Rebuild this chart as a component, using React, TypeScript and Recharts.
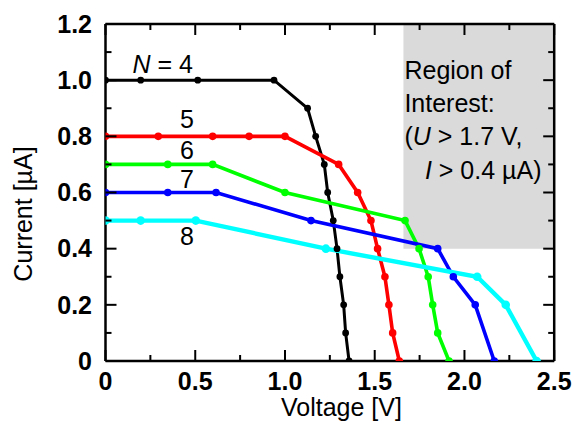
import React from 'react';
import { LineChart, Line, XAxis, YAxis, ReferenceArea, ReferenceDot } from 'recharts';

// N = 4
const n4V = [0, 0.196, 0.514, 0.939, 1.126, 1.171, 1.219, 1.238, 1.269, 1.29, 1.306, 1.327, 1.338, 1.357];
const n4I = [1.0, 1.0, 1.0, 1.0, 0.9, 0.8, 0.7, 0.6, 0.5, 0.4, 0.3, 0.2, 0.1, 0];
// N = 5
const n5V = [0, 0.294, 0.597, 0.8, 1.0, 1.299, 1.405, 1.479, 1.516, 1.557, 1.579, 1.6, 1.637];
const n5I = [0.8, 0.8, 0.8, 0.8, 0.8, 0.7, 0.6, 0.5, 0.4, 0.3, 0.2, 0.1, 0];
// N = 6
const n6V = [0, 0.347, 0.597, 1.0, 1.669, 1.747, 1.798, 1.823, 1.851, 1.914];
const n6I = [0.7, 0.7, 0.7, 0.6, 0.5, 0.4, 0.3, 0.2, 0.1, 0];
// N = 7
const n7V = [0, 0.347, 0.616, 1.145, 1.851, 1.938, 2.06, 2.166];
const n7I = [0.6, 0.6, 0.6, 0.5, 0.4, 0.3, 0.2, 0];
// N = 8
const n8V = [0, 0.196, 0.503, 1.228, 2.071, 2.23, 2.402];
const n8I = [0.5, 0.5, 0.5, 0.4, 0.3, 0.2, 0];

const xTicks = [0, 0.25, 0.5, 0.75, 1.0, 1.25, 1.5, 1.75, 2.0, 2.25, 2.5];
const xTickLabels = ['0', '', '0.5', '', '1.0', '', '1.5', '', '2.0', '', '2.5'];
const yTicks = [0, 0.1, 0.2, 0.3, 0.4, 0.5, 0.6, 0.7, 0.8, 0.9, 1.0, 1.1, 1.2];
const yTickLabels = ['0', '', '0.2', '', '0.4', '', '0.6', '', '0.8', '', '1.0', '', '1.2'];

// Region of interest
const roiV = [1.66, 2.5];
const roiI = [0.4, 1.2];
const roiLines = ['Region of', 'Interest:'];

// curve labels: [V, I, text]
const curveLabels: [number, number, string][] = [
  [0.454, 0.829, '5'],
  [0.454, 0.718, '6'],
  [0.454, 0.615, '7'],
  [0.454, 0.413, '8'],
];
const n4Label: [number, number] = [0.319, 1.0246];

const build = (vs: number[], is: number[]) => vs.map((v, k) => ({ v, i: is[k] }));
const d4 = build(n4V, n4I);
const d5 = build(n5V, n5I);
const d6 = build(n6V, n6I);
const d7 = build(n7V, n7I);
const d8 = build(n8V, n8I);

const FONT = "'Liberation Sans', Arial, Helvetica, sans-serif";
const FS = 25;

const idxOf = (arr: number[], v: number) => {
  let best = 0;
  for (let k = 0; k < arr.length; k++) if (Math.abs(arr[k] - v) < Math.abs(arr[best] - v)) best = k;
  return best;
};

const BottomTick = (p: any) => {
  const k = idxOf(xTicks, p.payload.value);
  const lab = xTickLabels[k];
  const major = lab !== '';
  return (
    <g>
      <line x1={p.x} y1={p.y} x2={p.x} y2={p.y - (major ? 11 : 6)} stroke="#000" strokeWidth={2} />
      {major && (
        <text x={p.x} y={p.y + 28.5} textAnchor="middle" fontFamily={FONT} fontSize={FS} fontWeight="bold" fill="#000">
          {lab}
        </text>
      )}
    </g>
  );
};
const TopTick = (p: any) => {
  const k = idxOf(xTicks, p.payload.value);
  const major = xTickLabels[k] !== '';
  return <line x1={p.x} y1={p.y} x2={p.x} y2={p.y + (major ? 11 : 6)} stroke="#000" strokeWidth={2} />;
};
const LeftTick = (p: any) => {
  const k = idxOf(yTicks, p.payload.value);
  const lab = yTickLabels[k];
  const major = lab !== '';
  return (
    <g>
      <line x1={p.x} y1={p.y} x2={p.x + (major ? 11 : 6)} y2={p.y} stroke="#000" strokeWidth={2} />
      {major && (
        <text x={p.x - 13.5} y={p.y + 8.8} textAnchor="end" fontFamily={FONT} fontSize={FS} fontWeight="bold" fill="#000">
          {lab}
        </text>
      )}
    </g>
  );
};
const RightTick = (p: any) => {
  const k = idxOf(yTicks, p.payload.value);
  const major = yTickLabels[k] !== '';
  return <line x1={p.x} y1={p.y} x2={p.x - (major ? 11 : 6)} y2={p.y} stroke="#000" strokeWidth={2} />;
};

const axisLine = { stroke: '#000', strokeWidth: 2.5 };

const series = [
  { d: d4, c: '#000000', w: 3, r: 3.4 },
  { d: d5, c: '#ff0000', w: 3.6, r: 3.8 },
  { d: d6, c: '#00ff00', w: 3.6, r: 3.8 },
  { d: d7, c: '#0000ff', w: 3.6, r: 3.8 },
  { d: d8, c: '#00ffff', w: 4.4, r: 4.3 },
];

export default function App() {
  return (
    <div style={{ position: 'absolute', left: 0, top: 0, width: 574, height: 425, background: '#fff' }}>
      <LineChart width={574} height={425} margin={{ top: 23, right: 18.8, bottom: 0, left: 0 }}>
        <ReferenceArea
          x1={roiV[0]}
          x2={roiV[1]}
          y1={roiI[0]}
          y2={roiI[1]}
          fill="#dadada"
          fillOpacity={1}
          stroke="none"
          ifOverflow="visible"
          label={{
            content: (props: any) => {
              const vb = props.viewBox || {};
              const x = vb.x;
              const y = vb.y;
              const st = { fontFamily: FONT, fontSize: FS, fill: '#000' } as any;
              return (
                <g>
                  <text x={x + 1} y={y + 54.5} {...st}>{roiLines[0]}</text>
                  <text x={x + 1} y={y + 88} {...st}>{roiLines[1]}</text>
                  <text x={x + 1} y={y + 121} {...st}>
                    (<tspan fontStyle="italic">U</tspan> &gt; 1.7 V,
                  </text>
                  <text x={x + 21.5} y={y + 154.5} {...st}>
                    <tspan fontStyle="italic">I</tspan> &gt; 0.4 µA)
                  </text>
                </g>
              );
            },
          }}
        />
        <XAxis
          xAxisId={0}
          dataKey="v"
          type="number"
          domain={[0, 2.5]}
          ticks={xTicks}
          interval={0}
          allowDataOverflow
          height={64}
          tickSize={0}
          tickMargin={0}
          tickLine={false}
          axisLine={axisLine}
          tick={BottomTick}
          label={{
            content: (props: any) => {
              const vb = props.viewBox || {};
              return (
                <text x={vb.x + vb.width / 2 + 11.6} y={vb.y + 55} textAnchor="middle" fontFamily={FONT} fontSize={FS} fill="#000">
                  Voltage [V]
                </text>
              );
            },
          }}
        />
        <XAxis
          xAxisId="top"
          orientation="top"
          dataKey="v"
          type="number"
          domain={[0, 2.5]}
          ticks={xTicks}
          interval={0}
          allowDataOverflow
          height={1}
          tickSize={0}
          tickMargin={0}
          tickLine={false}
          axisLine={axisLine}
          tick={TopTick}
        />
        <YAxis
          yAxisId={0}
          type="number"
          domain={[0, 1.2]}
          ticks={yTicks}
          interval={0}
          allowDataOverflow
          width={105.5}
          tickSize={0}
          tickMargin={0}
          tickLine={false}
          axisLine={axisLine}
          tick={LeftTick}
          label={{
            content: () => {
              const cx = 32;
              const cy = 214;
              return (
                <text x={cx} y={cy} transform={`rotate(-90 ${cx} ${cy})`} textAnchor="middle" fontFamily={FONT} fontSize={FS} fill="#000">
                  Current [µA]
                </text>
              );
            },
          }}
        />
        <YAxis
          yAxisId="right"
          orientation="right"
          type="number"
          domain={[0, 1.2]}
          ticks={yTicks}
          interval={0}
          allowDataOverflow
          width={1}
          tickSize={0}
          tickMargin={0}
          tickLine={false}
          axisLine={axisLine}
          tick={RightTick}
        />
        {series.map((s, k) => (
          <Line
            key={k}
            data={s.d}
            dataKey="i"
            type="linear"
            stroke={s.c}
            strokeWidth={s.w}
            dot={{ r: s.r, fill: s.c, stroke: 'none' }}
            activeDot={false}
            isAnimationActive={false}
          />
        ))}
        <ReferenceDot
          x={n4Label[0]}
          y={n4Label[1]}
          r={0}
          fill="none"
          stroke="none"
          ifOverflow="visible"
          label={{
            content: (props: any) => {
              const vb = props.viewBox || {};
              return (
                <text x={vb.x} y={vb.y} textAnchor="middle" fontFamily={FONT} fontSize={FS} fill="#000">
                  <tspan fontStyle="italic">N</tspan> = 4
                </text>
              );
            },
          }}
        />
        {curveLabels.map((c, k) => (
          <ReferenceDot
            key={k}
            x={c[0]}
            y={c[1]}
            r={0}
            fill="none"
            stroke="none"
            ifOverflow="visible"
            label={{
              content: (props: any) => {
                const vb = props.viewBox || {};
                return (
                  <text x={vb.x} y={vb.y} textAnchor="middle" fontFamily={FONT} fontSize={FS} fill="#000">
                    {c[2]}
                  </text>
                );
              },
            }}
          />
        ))}
      </LineChart>
    </div>
  );
}
